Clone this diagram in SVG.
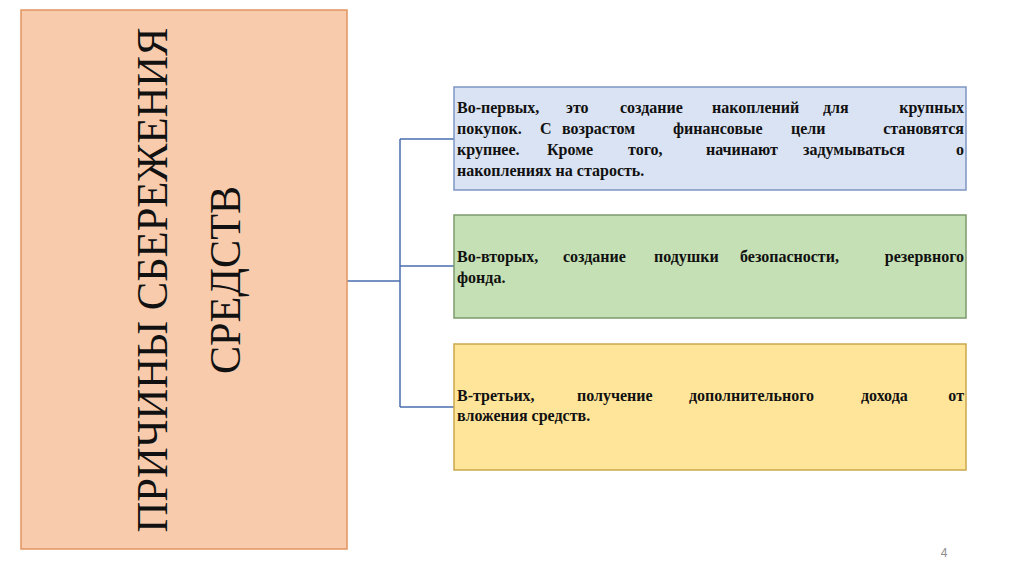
<svg xmlns="http://www.w3.org/2000/svg" width="1024" height="574" viewBox="0 0 1024 574">
<defs>
<style>
.e{text-anchor:end}
</style>
</defs>
<rect width="1024" height="574" fill="#ffffff"/>
<g id="connectors" fill="none" stroke="#4A6FB0" stroke-width="1.5">
<path d="M347,281 H400 M400,139 V407 M400,139 H454 M400,266 H454 M400,407 H454"/>
</g>
<g id="main" font-family="Liberation Serif" font-size="44" fill="#111">
<rect x="21" y="10" width="326" height="539" fill="#F7CBAC" stroke="#E39460" stroke-width="1.5"/>
<text text-anchor="middle" transform="translate(167,280) rotate(-90)" textLength="505" lengthAdjust="spacingAndGlyphs">ПРИЧИНЫ СБЕРЕЖЕНИЯ</text>
<text text-anchor="middle" transform="translate(240,280) rotate(-90)" textLength="188" lengthAdjust="spacingAndGlyphs">СРЕДСТВ</text>
</g>
<g id="reason1" font-family="Liberation Serif" font-weight="bold" font-size="16" fill="#111">
<rect x="454" y="87" width="512" height="103" fill="#DAE3F3" stroke="#7E96C4" stroke-width="1.5"/>
<text y="113"><tspan x="457">Во-первых,</tspan><tspan x="566">это</tspan><tspan x="620">создание</tspan><tspan x="712">накоплений</tspan><tspan x="823">для</tspan></text>
<text class="e" x="964" y="113">крупных</text>
<text y="134"><tspan x="457">покупок.</tspan><tspan x="540">С</tspan><tspan x="562">возрастом</tspan><tspan x="673">финансовые</tspan><tspan x="791">цели</tspan></text>
<text class="e" x="964" y="134">становятся</text>
<text y="155"><tspan x="457">крупнее.</tspan><tspan x="547">Кроме</tspan><tspan x="628">того,</tspan><tspan x="706">начинают</tspan><tspan x="803">задумываться</tspan></text>
<text class="e" x="964" y="155">о</text>
<text x="457" y="176">накоплениях на старость.</text>
</g>
<g id="reason2" font-family="Liberation Serif" font-weight="bold" font-size="16" fill="#111">
<rect x="454" y="215" width="512" height="103" fill="#C5E0B4" stroke="#7C9A6C" stroke-width="1.5"/>
<text y="262"><tspan x="457">Во-вторых,</tspan><tspan x="563">создание</tspan><tspan x="654">подушки</tspan><tspan x="740">безопасности,</tspan></text>
<text class="e" x="964" y="262">резервного</text>
<text x="457" y="283">фонда.</text>
</g>
<g id="reason3" font-family="Liberation Serif" font-weight="bold" font-size="16" fill="#111">
<rect x="454" y="344" width="512" height="126" fill="#FFE59A" stroke="#C9A84C" stroke-width="1.5"/>
<text y="401"><tspan x="457">В-третьих,</tspan><tspan x="577">получение</tspan><tspan x="689">дополнительного</tspan><tspan x="861">дохода</tspan></text>
<text class="e" x="964" y="401">от</text>
<text x="457" y="421">вложения средств.</text>
</g>
<text x="944" y="557" text-anchor="middle" font-family="Liberation Sans" font-size="12" fill="#8C8C8C">4</text>
</svg>
